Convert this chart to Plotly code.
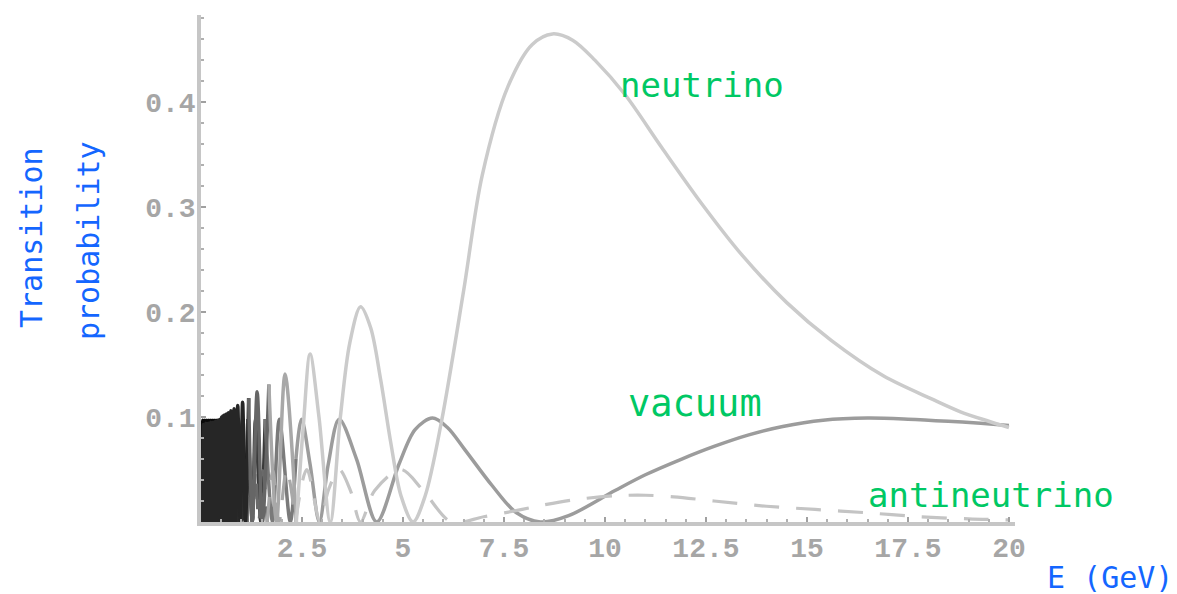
import plotly.graph_objects as go

# ---------------- data ----------------
# neutrino (matter) transition probability
nu_E = [0.03, 0.06, 0.09, 0.12, 0.15, 0.18, 0.21, 0.24, 0.27, 0.30, 0.33, 0.36, 0.39, 0.42, 0.45,
        0.47, 0.49, 0.51, 0.525, 0.54, 0.56, 0.58, 0.605, 0.63, 0.655, 0.68, 0.71, 0.74, 0.78,
        0.82, 0.86, 0.91, 0.97, 1.03, 1.10, 1.18, 1.27, 1.39, 1.52, 1.68, 1.87, 2.08, 2.36,
        2.53, 2.70, 2.92, 3.20, 3.45, 3.68, 3.95, 4.20, 4.45, 4.70, 4.95, 5.25, 5.55, 5.95,
        6.50, 6.96, 7.60, 8.20, 8.70, 9.20, 9.75, 10.5, 11.4, 12.4, 13.4, 14.5, 15.6, 16.9,
        18.1, 18.8, 19.5, 20.0]
nu_P = [0.0, 0.093, 0.0, 0.094, 0.0, 0.094, 0.0, 0.095, 0.0, 0.095, 0.0, 0.096, 0.0, 0.097, 0.0,
        0.098, 0.0, 0.100, 0.0, 0.101, 0.0, 0.102, 0.0, 0.103, 0.0, 0.104, 0.0, 0.106, 0.0,
        0.108, 0.0, 0.111, 0.0, 0.114, 0.0, 0.118, 0.0, 0.124, 0.0, 0.131, 0.0, 0.141, 0.0,
        0.090, 0.160, 0.100, 0.0, 0.100, 0.170, 0.205, 0.185, 0.135, 0.075, 0.025, 0.0, 0.025, 0.095,
        0.220, 0.330, 0.415, 0.455, 0.465, 0.459, 0.440, 0.407, 0.357, 0.303, 0.254, 0.209, 0.173, 0.139,
        0.117, 0.105, 0.096, 0.090]

# vacuum transition probability
vac_E = [0.02, 0.045, 0.07, 0.095, 0.12, 0.145, 0.17, 0.195, 0.22, 0.245, 0.27, 0.295, 0.32, 0.345,
         0.37, 0.395, 0.42, 0.445, 0.47, 0.495, 0.52, 0.535, 0.55, 0.57, 0.59, 0.61, 0.63, 0.66,
         0.68, 0.71, 0.74, 0.77, 0.81, 0.85, 0.89, 0.93, 0.99, 1.04, 1.11, 1.17, 1.27, 1.35,
         1.48, 1.59, 1.77, 1.94, 2.21, 2.35, 2.49, 2.70, 2.93, 3.15, 3.42, 3.85, 4.35, 4.90,
         5.30, 5.73, 6.10, 6.53, 7.20, 7.80, 8.40, 9.10, 10.25, 11.0, 11.9, 12.7, 13.56, 14.4,
         15.4, 16.5, 17.5, 18.5, 19.3, 20.0]
vac_P = [0.0, 0.097, 0.0, 0.097, 0.0, 0.097, 0.0, 0.097, 0.0, 0.097, 0.0, 0.097, 0.0, 0.097,
         0.0, 0.097, 0.0, 0.097, 0.0, 0.097, 0.0, 0.098, 0.0, 0.098, 0.0, 0.098, 0.0, 0.098,
         0.0, 0.098, 0.0, 0.098, 0.0, 0.098, 0.0, 0.098, 0.0, 0.098, 0.0, 0.098, 0.0, 0.098,
         0.0, 0.098, 0.0, 0.098, 0.0, 0.060, 0.098, 0.055, 0.0, 0.055, 0.098, 0.060, 0.0, 0.055,
         0.088, 0.099, 0.090, 0.069, 0.035, 0.009, 0.0, 0.006, 0.030, 0.045, 0.060, 0.072, 0.083, 0.091,
         0.097, 0.099, 0.098, 0.096, 0.094, 0.092]

# antineutrino (matter) transition probability
anti_E = [0.03, 0.055, 0.08, 0.105, 0.13, 0.155, 0.18, 0.205, 0.23, 0.255, 0.28, 0.305, 0.33, 0.355,
          0.38, 0.405, 0.43, 0.455, 0.48, 0.505, 0.535, 0.55, 0.565, 0.58, 0.595, 0.61, 0.625, 0.645,
          0.665, 0.685, 0.705, 0.73, 0.755, 0.78, 0.81, 0.84, 0.875, 0.91, 0.95, 0.99, 1.035, 1.085,
          1.14, 1.20, 1.27, 1.35, 1.43, 1.53, 1.64, 1.78, 1.93, 2.12, 2.34, 2.62, 2.95, 3.15,
          3.42, 3.70, 3.95, 4.30, 4.95, 5.50, 6.20, 7.00, 7.95, 8.45, 9.20, 10.25, 11.0, 11.7,
          12.7, 14.0, 15.2, 16.4, 17.8, 19.0, 20.0]
anti_P = [0.0, 0.048, 0.0, 0.048, 0.0, 0.048, 0.0, 0.048, 0.0, 0.048, 0.0, 0.048, 0.0, 0.048,
          0.0, 0.048, 0.0, 0.048, 0.0, 0.048, 0.0, 0.048, 0.0, 0.048, 0.0, 0.048, 0.0, 0.048,
          0.0, 0.048, 0.0, 0.048, 0.0, 0.048, 0.0, 0.048, 0.0, 0.048, 0.0, 0.048, 0.0, 0.048,
          0.0, 0.049, 0.0, 0.049, 0.0, 0.049, 0.0, 0.049, 0.0, 0.050, 0.0, 0.050, 0.0, 0.030,
          0.050, 0.030, 0.0, 0.030, 0.050, 0.030, 0.0, 0.005, 0.012, 0.016, 0.021, 0.025, 0.0255, 0.024,
          0.020, 0.015, 0.012, 0.009, 0.005, 0.003, 0.002]

x_ticks = [2.5, 5, 7.5, 10, 12.5, 15, 17.5, 20]
x_tick_labels = ["2.5", "5", "7.5", "10", "12.5", "15", "17.5", "20"]
y_ticks = [0.1, 0.2, 0.3, 0.4]
y_tick_labels = ["0.1", "0.2", "0.3", "0.4"]

curve_labels = ["neutrino", "vacuum", "antineutrino"]
x_title = "E (GeV)"
y_title = ["Transition", "probability"]

# ---------------- styling ----------------
# the dense low-energy oscillations render darker in the original picture
zones = [(0.0, 1.2), (1.2, 1.75), (1.75, 2.4), (2.4, 99.0)]
styles = {
    "vacuum": dict(colors=["#0a0a0a", "#3a3a3a", "#7a7a7a", "#9c9c9c"], width=3.5, dash="solid"),
    "antineutrino": dict(colors=["#333333", "#6a6a6a", "#a8a8a8", "#c4c4c4"], width=3.2, dash="25px,17px"),
    "neutrino": dict(colors=["#262626", "#666666", "#a8a8a8", "#cbcbcb"], width=3.5, dash="solid"),
}
series = {"vacuum": (vac_E, vac_P), "antineutrino": (anti_E, anti_P), "neutrino": (nu_E, nu_P)}

fig = go.Figure()
for name in ["vacuum", "antineutrino", "neutrino"]:
    E, P = series[name]
    st = styles[name]
    for (lo, hi), col in zip(zones, st["colors"]):
        idx = [i for i, e in enumerate(E) if lo <= e < hi]
        if not idx:
            continue
        i0 = max(idx[0] - 1, 0)
        i1 = idx[-1]
        fig.add_trace(go.Scatter(
            x=E[i0:i1 + 1], y=P[i0:i1 + 1], mode="lines",
            line=dict(color=col, width=st["width"], dash=st["dash"], shape="spline", smoothing=0.9),
            showlegend=False, hoverinfo="skip"))

# plot-area geometry (pixels)
L, R, T, B = 201, 162, 15, 72
W = 1177 - L - R
H = 594 - T - B

def px_x(px):
    return (px - L) / W

def px_y(py):
    return (594 - B - py) / H

green = "#00c864"
blue = "#1466ff"
lab_font = "DejaVu Sans Mono"

annotations = [
    dict(x=12.4, y=0.416, xref="x", yref="y", text=curve_labels[0], size=34),
    dict(x=12.23, y=0.113, xref="x", yref="y", text=curve_labels[1], size=37),
    dict(x=19.55, y=0.026, xref="x", yref="y", text=curve_labels[2], size=34),
]
for a in annotations:
    sz = a.pop("size")
    a.update(showarrow=False, xanchor="center", yanchor="middle",
             font=dict(family=lab_font, size=sz, color=green))

annotations.append(dict(x=px_x(1110), y=px_y(577), xref="paper", yref="paper", text=x_title,
                        showarrow=False, xanchor="center", yanchor="middle",
                        font=dict(family=lab_font, size=30, color=blue)))
annotations.append(dict(x=px_x(31), y=px_y(238), xref="paper", yref="paper", text=y_title[0],
                        textangle=-90, showarrow=False, xanchor="center", yanchor="middle",
                        font=dict(family=lab_font, size=30, color=blue)))
annotations.append(dict(x=px_x(88), y=px_y(240), xref="paper", yref="paper", text=y_title[1],
                        textangle=-90, showarrow=False, xanchor="center", yanchor="middle",
                        font=dict(family=lab_font, size=30, color=blue)))

tick_font = dict(family="Liberation Mono", size=28, color="#a6a6a6", weight="bold")

fig.update_layout(
    width=1177, height=594,
    margin=dict(l=L, r=R, t=T, b=B, pad=0),
    paper_bgcolor="white", plot_bgcolor="white",
    annotations=annotations,
    xaxis=dict(range=[0, 20.15], showgrid=False, zeroline=False, showline=True,
               linecolor="#c6c6c6", linewidth=3.5, ticks="inside", ticklen=5, tickwidth=2,
               tickcolor="#a0a0a0", tickvals=x_ticks, ticktext=x_tick_labels, tickfont=tick_font,
               ticklabelstandoff=-2,
               minor=dict(dtick=0.5, ticks="inside", ticklen=3, tickcolor="#b0b0b0", tickwidth=1.5)),
    yaxis=dict(range=[0, 0.483], showgrid=False, zeroline=False, showline=True,
               linecolor="#c6c6c6", linewidth=3.5, ticks="inside", ticklen=5, tickwidth=2,
               tickcolor="#a0a0a0", tickvals=y_ticks, ticktext=y_tick_labels, tickfont=tick_font,
               ticklabelstandoff=-4,
               minor=dict(dtick=0.02, ticks="inside", ticklen=3, tickcolor="#b0b0b0", tickwidth=1.5)),
)

fig.write_html("out.html")
